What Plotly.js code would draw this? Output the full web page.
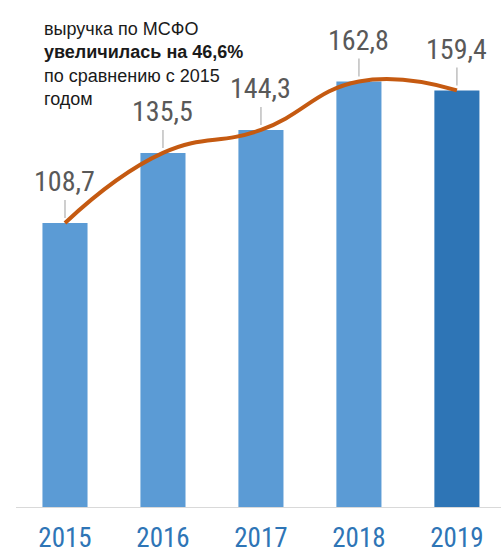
<!DOCTYPE html>
<html>
<head>
<meta charset="utf-8">
<script src="https://cdn.plot.ly/plotly-3.0.1.min.js"></script>
<style>html,body{margin:0;padding:0;background:#fff;}#chart{width:501px;height:554px;}</style>
</head>
<body>
<div id="chart"></div>
<script>
const years = ['2015', '2016', '2017', '2018', '2019'];
const revenue = [108.7, 135.5, 144.3, 162.8, 159.4];
const valueLabels = ['108,7', '135,5', '144,3', '162,8', '159,4'];
const barColors = ['#5b9bd5', '#5b9bd5', '#5b9bd5', '#5b9bd5', '#2e75b6'];
const noteLines = ['выручка по МСФО', '<b>увеличилась на 46,6%</b>', 'по сравнению с 2015', 'годом'];

const narrow = '"Roboto Condensed", "DejaVu Sans Condensed", "Liberation Sans", Arial, sans-serif';

const traces = [
  {
    type: 'bar', x: years, y: revenue,
    marker: {color: barColors},
    hoverinfo: 'skip'
  },
  {
    type: 'scatter', mode: 'lines', x: years, y: revenue,
    line: {shape: 'spline', smoothing: 1.3, color: '#c55a11', width: 4},
    hoverinfo: 'skip'
  }
];

const annotations = years.map((yr, i) => ({
  x: i, y: revenue[i], xref: 'x', yref: 'y',
  text: valueLabels[i], showarrow: true, arrowhead: 0, arrowwidth: 1.5,
  arrowcolor: '#bfbfbf', ax: 0, ay: -41, standoff: 5,
  font: {family: narrow, size: 28, color: '#595959'}
}));

annotations.push({
  xref: 'paper', yref: 'paper', x: 0.0536, y: 1 - 17/507, xanchor: 'left', yanchor: 'top',
  align: 'left', showarrow: false,
  text: noteLines.join('<br>'),
  font: {family: '"Liberation Sans", Arial, sans-serif', size: 18, color: '#1a1a1a'}
});

const layout = {
  width: 501, height: 554,
  margin: {l: 16, r: 0, t: 0, b: 47, pad: 0},
  paper_bgcolor: '#ffffff', plot_bgcolor: '#ffffff',
  showlegend: false,
  bargap: 0.54,
  xaxis: {
    type: 'category', range: [-0.5, 4.45],
    showline: true, linecolor: '#d9d9d9', linewidth: 1,
    showgrid: false, zeroline: false, ticks: '',
    ticklabelstandoff: 7,
    tickfont: {family: narrow, size: 27, color: '#2e75b6'},
    fixedrange: true
  },
  yaxis: {
    range: [0, 194], visible: false, showgrid: false, zeroline: false, fixedrange: true
  },
  annotations: annotations
};

Plotly.newPlot('chart', traces, layout, {displayModeBar: false, staticPlot: true});
</script>
</body>
</html>
